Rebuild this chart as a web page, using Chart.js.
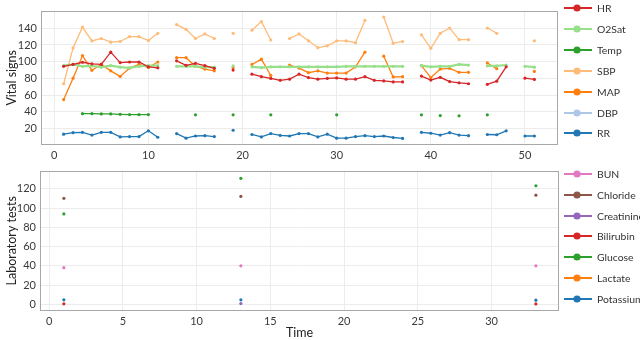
<!DOCTYPE html>
<html>
<head>
<meta charset="utf-8">
<script src="https://cdn.jsdelivr.net/npm/chart.js@4.4.1/dist/chart.umd.min.js"></script>
<style>
  body { margin: 0; background: #fff; font-family: Lato, sans-serif; }
  #wrap { position: relative; width: 640px; height: 340px; overflow: hidden; }
  canvas { position: absolute; left: 0; }
  #vitalChart { top: 0; }
  #labChart { top: 160px; }
  .legend { position: absolute; left: 563px; font-size: 10.4px; color: #333; }
  .legend .item { position: absolute; left: 0; height: 14px; width: 80px; white-space: nowrap; }
  .legend svg { position: absolute; left: 0; top: 0; }
  .legend span { position: absolute; left: 34px; top: 0; line-height: 14px; }
</style>
</head>
<body>
<div id="wrap">
  <canvas id="vitalChart" width="640" height="162"></canvas>
  <canvas id="labChart" width="640" height="180"></canvas>
  <div class="legend" id="vitalLegend"></div>
  <div class="legend" id="labLegend"></div>
</div>
<script>
// vital signs, one value per time step (null = not measured)
const vitalTimes = [1, 2, 3, 4, 5, 6, 7, 8, 9, 10, 11, 12, 13, 14, 15, 16, 17, 18, 19, 20, 21, 22, 23, 24, 25, 26,
  27, 28, 29, 30, 31, 32, 33, 34, 35, 36, 37, 38, 39, 40, 41, 42, 43, 44, 45, 46, 47, 48, 49, 50, 51];

const hr = [94.5, 96.7, 99.3, 97.4, 96.7, 111.4, 98.9, 99.6, 99.6, 93.8, 92.7, null, 101, 95.6, 98, 95.2, 92, null,
  90, null, 85, 82, 79.9, 77.7, 79.1, 85, 81, 79.1, 79.9, 80.6, 79.1, 79.1, 82, 77.7, 76.9, 75.8, 75.8, null,
  82.8, 78, 81.3, 76.2, 74.7, 73.6, null, 72.9, 76.6, 93.8, null, 80.2, 78.8];
const o2sat = [95.2, 96.7, 94.5, 94.9, 93.4, 95.2, 93.4, 92.7, 94.5, 95.2, 95.2, null, 94.5, 94.5, 94.5, 93.5, 93.4, null,
  95, null, 93.8, 93, 93.8, 93.8, 93.8, 93.8, 93.8, 93.8, 93.8, 93.8, 94.5, 94.5, 94.5, 94.5, 94.5, 94.5, 94.5, null,
  95.2, 93.8, 94.5, 94.5, 96.7, 96, null, 95, 95, 96, null, 94.5, 93.4];
const temp = [null, null, 37.7, 37.7, 37.4, 37.4, 37, 36.6, 36.6, 36.6, null, null, null, null, 36.3, null, null, null,
  36.3, null, null, null, 36.3, null, null, null, null, null, null, 36.3, null, null, null, null, null, null, null, null,
  36.3, null, 35.5, null, 35.2, null, null, 36.3, null, null, null, null, null];
const sbp = [73.6, 116.5, 141.4, 124.9, 127.8, 123.4, 124.2, 130, 130, 125.3, 134, null, 144.3, 138.8, 127.8, 133.3, 127.8, null,
  134, null, 137.7, 148, 126, null, 127.8, 133.3, 125, 116.8, 119, 125, 125, 122.7, 149.5, null, 153.5, 122, 124.2, null,
  132.2, 116, 134, 140.3, 126.4, 126.4, null, 140.3, 134, null, null, null, 125];
const map = [54.6, 80.2, 107.3, 89.7, 97, 89, 82.4, 92.3, 96.7, 93, 99.6, null, 104.8, 104.8, 94.5, 91.2, 89, null,
  93, null, 96.7, 103, 83.5, null, 96, 92.3, 86.8, 89, 86.4, 86.4, 86.4, 93.8, 111.4, null, 106.6, 81.7, 82, null,
  95.2, 81, 91.2, 92, 87.2, 87.2, null, 98.5, 91.6, null, null, null, 88.3];
const dbp = [];
const rr = [13.2, 15, 15.4, 12.1, 15.4, 15.4, 9.9, 10.3, 10.3, 17.2, 9.5, null, 13.9, 8.4, 11, 11.4, 10.3, null,
  17.9, null, 12.8, 9.9, 13.9, 11.7, 11, 13.9, 13.9, 9.9, 13.2, 8.4, 8.4, 10.3, 11.4, 10.3, 11, 9.2, 8.1, null,
  15.4, 14.3, 12.1, 15, 12.1, 11.4, null, 12.8, 12.5, 17.2, null, 11, 11];

// laboratory tests
const labTimes = [1, 13, 33];
const bun = [38, 40, 40];
const chloride = [110.2, 112.2, 113.5];
const creatinine = [null, 0.7, null];
const bilirubin = [0.4, null, 0.3];
const glucose = [94, 131, 123.3];
const lactate = [null, null, null];
const potassium = [4.6, 4.6, 4.2];

// tick labels
const vitalXTicks = [0, 10, 20, 30, 40, 50];
const vitalYTicks = [20, 40, 60, 80, 100, 120, 140];
const labXTicks = [0, 5, 10, 15, 20, 25, 30];
const labYTicks = [0, 20, 40, 60, 80, 100, 120];

const vitalSeries = [
  { label: 'HR', data: hr, color: '#d62728' },
  { label: 'O2Sat', data: o2sat, color: '#98df8a' },
  { label: 'Temp', data: temp, color: '#2ca02c' },
  { label: 'SBP', data: sbp, color: '#ffbb78' },
  { label: 'MAP', data: map, color: '#ff7f0e' },
  { label: 'DBP', data: dbp, color: '#aec7e8' },
  { label: 'RR', data: rr, color: '#1f77b4' }
];
const labSeries = [
  { label: 'BUN', data: bun, color: '#e377c2' },
  { label: 'Chloride', data: chloride, color: '#8c564b' },
  { label: 'Creatinine', data: creatinine, color: '#9467bd' },
  { label: 'Bilirubin', data: bilirubin, color: '#d62728' },
  { label: 'Glucose', data: glucose, color: '#2ca02c' },
  { label: 'Lactate', data: lactate, color: '#ff7f0e' },
  { label: 'Potassium', data: potassium, color: '#1f77b4' }
];

const FONT = 'Lato, sans-serif';
const GRID = '#ececec';

// grey frame round the plot area
const framePlugin = {
  id: 'frame',
  afterDraw(chart) {
    const a = chart.chartArea, ctx = chart.ctx;
    ctx.save();
    ctx.strokeStyle = '#a8a8a8';
    ctx.lineWidth = 1;
    ctx.strokeRect(Math.round(a.left) - 0.5, Math.round(a.top) - 0.5, Math.round(a.right - a.left) + 1, Math.round(a.bottom - a.top) + 1);
    ctx.restore();
  }
};

function toPoints(times, values) {
  return times.map((t, i) => ({ x: t, y: values[i] === undefined ? null : values[i] }));
}

function axis(min, max, ticks, opts) {
  return {
    type: 'linear',
    min: min,
    max: max,
    afterBuildTicks: s => { s.ticks = ticks.map(v => ({ value: v })); },
    grid: { color: GRID, drawTicks: false },
    border: { display: false },
    ticks: { color: '#3a3a3a', font: { family: FONT, size: 11 }, padding: opts.padding },
    title: opts.title ? { display: true, text: opts.title, color: '#222', font: { family: FONT, size: 12.5 }, padding: opts.titlePad || 0 } : { display: false },
    afterFit: s => { if (opts.width) s.width = opts.width; if (opts.height) s.height = opts.height; }
  };
}

new Chart(document.getElementById('vitalChart').getContext('2d'), {
  type: 'line',
  data: {
    datasets: vitalSeries.map(s => ({
      label: s.label,
      data: toPoints(vitalTimes, s.data),
      borderColor: s.color,
      backgroundColor: s.color,
      borderWidth: s.label === 'O2Sat' ? 2.2 : 1.3,
      pointRadius: 1.6,
      pointBorderWidth: 0,
      spanGaps: false,
      tension: 0
    }))
  },
  options: {
    responsive: false,
    animation: false,
    layout: { padding: { left: 4, right: 83, top: 0, bottom: 0 } },
    scales: {
      x: axis(-1.3, 53.4, vitalXTicks, { padding: 5, height: 18 }),
      y: axis(1.4, 160, vitalYTicks, { padding: 5, width: 38, title: 'Vital signs', titlePad: { top: 0, bottom: 1 } })
    },
    plugins: { legend: { display: false }, tooltip: { enabled: false } }
  },
  plugins: [framePlugin]
});

new Chart(document.getElementById('labChart').getContext('2d'), {
  type: 'line',
  data: {
    datasets: labSeries.map(s => ({
      label: s.label,
      data: toPoints(labTimes, s.data),
      borderColor: s.color,
      backgroundColor: s.color,
      showLine: false,
      pointRadius: 1.6,
      pointBorderWidth: 0
    }))
  },
  options: {
    responsive: false,
    animation: false,
    layout: { padding: { left: 4, right: 82, top: 3, bottom: 0 } },
    scales: {
      x: axis(-0.55, 34.5, labXTicks, { padding: 5, height: 30, title: 'Time', titlePad: { top: 0, bottom: 0 } }),
      y: axis(-6, 138, labYTicks, { padding: 5, width: 37, title: 'Laboratory tests', titlePad: { top: 0, bottom: 1 } })
    },
    plugins: { legend: { display: false }, tooltip: { enabled: false } }
  },
  plugins: [framePlugin]
});

// legends: line with a dot, like the reference
function buildLegend(id, series, firstY, step) {
  const box = document.getElementById(id);
  series.forEach((s, i) => {
    const item = document.createElement('div');
    item.className = 'item';
    item.style.top = (firstY + i * step - 7) + 'px';
    item.innerHTML = '<svg width="30" height="14"><line x1="1" y1="7" x2="29" y2="7" stroke="' + s.color +
      '" stroke-width="2"/><circle cx="14" cy="7" r="3.6" fill="' + s.color + '"/></svg><span>' + s.label + '</span>';
    box.appendChild(item);
  });
}
buildLegend('vitalLegend', vitalSeries, 8.3, 20.85);
buildLegend('labLegend', labSeries, 174, 20.8);
</script>
</body>
</html>
